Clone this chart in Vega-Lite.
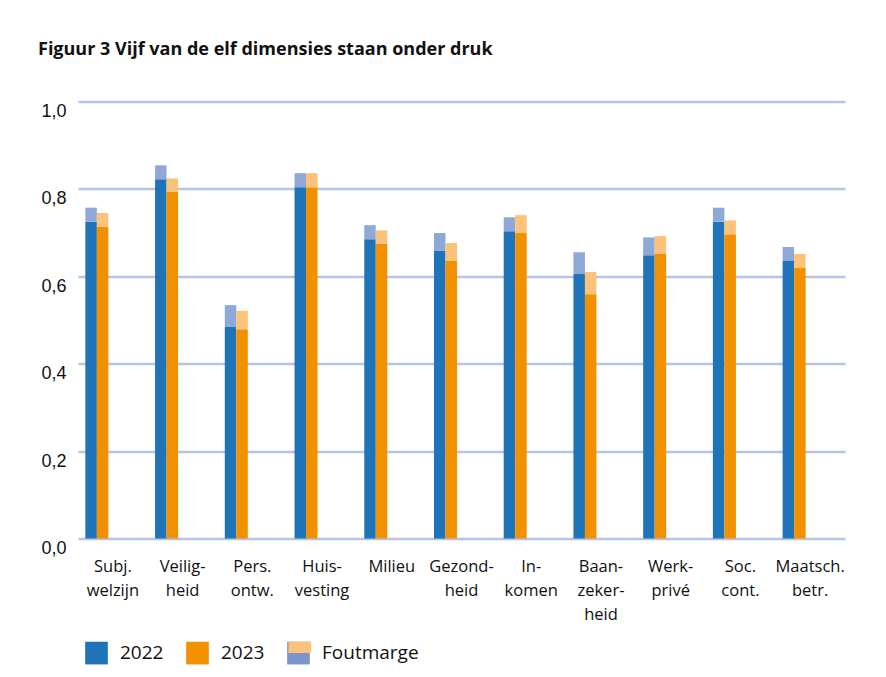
{
  "$schema": "https://vega.github.io/schema/vega-lite/v6.json",
  "width": 767,
  "height": 437,
  "autosize": {"type": "none"},
  "padding": {"left": 78, "top": 101.5, "right": 41, "bottom": 138.5},
  "background": "#ffffff",
  "title": {
    "text": "Figuur 3 Vijf van de elf dimensies staan onder druk",
    "anchor": "start",
    "frame": "group",
    "font": "Open Sans",
    "fontSize": 18,
    "fontWeight": "bold",
    "color": "#111111",
    "baseline": "alphabetic",
    "dx": -40,
    "offset": 29
  },
  "data": {
    "values": [
      {"cat": "Subj.|welzijn", "year": "2022", "value": 0.725, "upper": 0.757},
      {"cat": "Subj.|welzijn", "year": "2023", "value": 0.713, "upper": 0.745},
      {"cat": "Veilig-|heid", "year": "2022", "value": 0.822, "upper": 0.854},
      {"cat": "Veilig-|heid", "year": "2023", "value": 0.793, "upper": 0.824},
      {"cat": "Pers.|ontw.", "year": "2022", "value": 0.485, "upper": 0.534},
      {"cat": "Pers.|ontw.", "year": "2023", "value": 0.479, "upper": 0.521},
      {"cat": "Huis-|vesting", "year": "2022", "value": 0.804, "upper": 0.836},
      {"cat": "Huis-|vesting", "year": "2023", "value": 0.804, "upper": 0.836},
      {"cat": "Milieu", "year": "2022", "value": 0.685, "upper": 0.717},
      {"cat": "Milieu", "year": "2023", "value": 0.674, "upper": 0.705},
      {"cat": "Gezond-|heid", "year": "2022", "value": 0.658, "upper": 0.699},
      {"cat": "Gezond-|heid", "year": "2023", "value": 0.635, "upper": 0.676},
      {"cat": "In-|komen", "year": "2022", "value": 0.703, "upper": 0.735},
      {"cat": "In-|komen", "year": "2023", "value": 0.699, "upper": 0.740},
      {"cat": "Baan-|zeker-|heid", "year": "2022", "value": 0.605, "upper": 0.655},
      {"cat": "Baan-|zeker-|heid", "year": "2023", "value": 0.559, "upper": 0.610},
      {"cat": "Werk-|privé", "year": "2022", "value": 0.648, "upper": 0.689},
      {"cat": "Werk-|privé", "year": "2023", "value": 0.651, "upper": 0.692},
      {"cat": "Soc.|cont.", "year": "2022", "value": 0.725, "upper": 0.757},
      {"cat": "Soc.|cont.", "year": "2023", "value": 0.696, "upper": 0.728},
      {"cat": "Maatsch.|betr.", "year": "2022", "value": 0.635, "upper": 0.667},
      {"cat": "Maatsch.|betr.", "year": "2023", "value": 0.619, "upper": 0.651}
    ]
  },
  "encoding": {
    "x": {
      "field": "cat",
      "type": "nominal",
      "sort": null,
      "scale": {"paddingInner": 0, "paddingOuter": 0},
      "axis": {
        "title": null,
        "domain": false,
        "ticks": false,
        "labelAngle": 0,
        "labelAlign": "center",
        "labelBaseline": "top",
        "labelExpr": "split(datum.value, '|')",
        "labelLineHeight": 24,
        "labelPadding": 19.5,
        "labelFont": "Open Sans",
        "labelFontSize": 16.5,
        "labelColor": "#111111",
        "labelLimit": 0
      }
    },
    "xOffset": {
      "field": "year",
      "type": "nominal",
      "scale": {"paddingInner": 0, "paddingOuter": 0, "range": [7.35, 30.35]}
    }
  },
  "layer": [
    {
      "mark": {"type": "bar", "cornerRadius": 0},
      "encoding": {
        "y": {
          "field": "value",
          "type": "quantitative",
          "scale": {"domain": [0, 1], "nice": false},
          "axis": {
            "title": null,
            "values": [0, 0.2, 0.4, 0.6, 0.8, 1.0],
            "domain": false,
            "ticks": false,
            "grid": true,
            "gridColor": "#b6c4e6",
            "gridWidth": 2.5,
            "labelExpr": "replace(format(datum.value, '.1f'), '.', ',')",
            "labelFont": "Liberation Sans",
            "labelFontSize": 18,
            "labelColor": "#111111",
            "labelBaseline": "top",
            "labelPadding": 12,
            "labelOffset": 1
          }
        },
        "color": {
          "field": "year",
          "type": "nominal",
          "scale": {
            "domain": ["2022", "2023", "Foutmarge"],
            "range": ["#1f73b8", "#f29100", "#7b95ca"]
          },
          "legend": {
            "title": null,
            "orient": "none",
            "direction": "horizontal",
            "legendX": 7,
            "legendY": 540,
            "values": ["2022", "2023", "Foutmarge"],
            "symbolType": "square",
            "symbolSize": 515,
            "symbolStrokeWidth": 0,
            "symbolOpacity": 1,
            "labelFont": "Open Sans",
            "labelFontSize": 19,
            "labelColor": "#111111",
            "labelOffset": 12,
            "columnPadding": 22,
            "padding": 0,
            "zindex": 0
          }
        }
      }
    },
    {
      "mark": {"type": "bar"},
      "encoding": {
        "y": {"field": "value", "type": "quantitative"},
        "y2": {"field": "upper"},
        "color": {
          "condition": {"test": "datum.year === '2022'", "value": "#8ea8d8"},
          "value": "#fbc27a"
        },
        "opacity": {
          "datum": "Foutmarge",
          "type": "nominal",
          "scale": {"domain": ["Foutmarge"], "range": [1]},
          "legend": {
            "title": null,
            "orient": "none",
            "direction": "horizontal",
            "legendX": 210.3,
            "legendY": 540,
            "symbolType": "M-1,-1H1V0H-1Z",
            "symbolSize": 515,
            "symbolFillColor": "#fbc27a",
            "symbolStrokeWidth": 0,
            "symbolOpacity": 1,
            "labelExpr": "''",
            "labelOffset": 0,
            "padding": 0,
            "zindex": 1
          }
        }
      }
    }
  ],
  "config": {
    "view": {"stroke": null},
    "bar": {"opacity": 1}
  }
}
